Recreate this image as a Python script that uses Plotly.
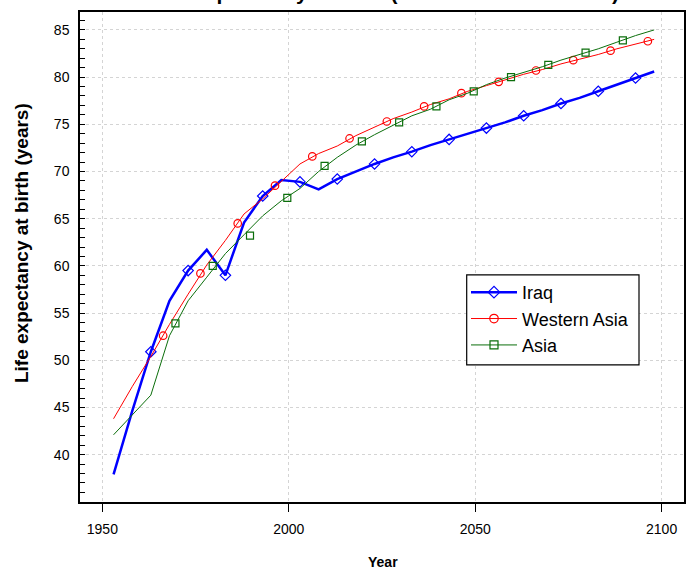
import plotly.graph_objects as go

# ---- data ----
years = [1953, 1958, 1963, 1968, 1973, 1978, 1983, 1988, 1993, 1998,
         2003, 2008, 2013, 2018, 2023, 2028, 2033, 2038, 2043, 2048,
         2053, 2058, 2063, 2068, 2073, 2078, 2083, 2088, 2093, 2098]

iraq = [37.9, 44.6, 50.9, 56.3, 59.5, 61.7, 59.0, 64.6, 67.4, 69.1,
        68.9, 68.1, 69.2, 70.0, 70.8, 71.5, 72.1, 72.8, 73.4, 74.0,
        74.6, 75.2, 75.9, 76.5, 77.2, 77.8, 78.5, 79.2, 79.9, 80.6]

western_asia = [43.8, 47.2, 50.4, 53.8, 57.0, 60.1, 62.7, 65.5, 67.1, 68.9,
                70.8, 71.9, 72.7, 73.8, 74.7, 75.6, 76.3, 77.1, 77.7, 78.5,
                79.1, 79.7, 80.3, 80.8, 81.4, 81.9, 82.4, 83.0, 83.5, 84.0]

asia = [42.1, 44.2, 46.3, 52.6, 56.3, 58.8, 61.3, 63.3, 65.3, 66.9,
        68.2, 70.0, 71.5, 72.8, 73.9, 74.9, 75.9, 76.6, 77.6, 78.3,
        79.2, 79.9, 80.5, 81.1, 81.8, 82.4, 83.0, 83.7, 84.4, 85.0]

# marker positions as drawn in the picture (markers are spread along each line)
iraq_mk_years = [1963, 1973, 1983, 1993, 2003, 2013, 2023, 2033, 2043, 2053, 2063, 2073, 2083, 2093]
iraq_mk_vals = [50.9, 59.5, 59.0, 67.4, 68.9, 69.2, 70.8, 72.1, 73.4, 74.6, 75.9, 77.2, 78.5, 79.9]

wa_mk_years = [1966.3, 1976.3, 1986.3, 1996.3, 2006.3, 2016.3, 2026.3,
               2036.3, 2046.3, 2056.3, 2066.3, 2076.3, 2086.3, 2096.3]
wa_mk_vals = [52.6, 59.2, 64.5, 68.5, 71.6, 73.5, 75.3, 76.9, 78.3, 79.5, 80.7, 81.8, 82.8, 83.8]

asia_mk_years = [1969.6, 1979.6, 1989.6, 1999.6, 2009.6, 2019.6, 2029.6,
                 2039.6, 2049.6, 2059.6, 2069.6, 2079.6, 2089.6]
asia_mk_vals = [53.9, 60.0, 63.2, 67.2, 70.6, 73.2, 75.2, 76.9, 78.5, 80.0, 81.3, 82.6, 83.9]

x_ticks = [1950, 2000, 2050, 2100]
y_ticks = [40, 45, 50, 55, 60, 65, 70, 75, 80, 85]

series = [
    ("Iraq", iraq, iraq_mk_years, iraq_mk_vals, "#0000FF", 2.5, "diamond-open", 8),
    ("Western Asia", western_asia, wa_mk_years, wa_mk_vals, "#FF0000", 1, "circle-open", 7.5),
    ("Asia", asia, asia_mk_years, asia_mk_vals, "#0B6E0B", 1, "square-open", 7),
]

FONT = "Arial, Liberation Sans, sans-serif"

fig = go.Figure()
for name, vals, mky, mkv, col, lw, sym, sz in series:
    fig.add_trace(go.Scatter(x=years, y=vals, mode="lines", line=dict(color=col, width=lw),
                             showlegend=False, hoverinfo="skip"))
    fig.add_trace(go.Scatter(x=mky, y=mkv, mode="markers",
                             marker=dict(symbol=sym, size=sz, color=col, line=dict(width=1.2, color=col)),
                             showlegend=False, hoverinfo="skip"))
for name, vals, mky, mkv, col, lw, sym, sz in series:
    fig.add_trace(go.Scatter(x=[None], y=[None], mode="lines+markers", name=name,
                             line=dict(color=col, width=lw),
                             marker=dict(symbol=sym, size=sz + 1, color=col, line=dict(width=1.2, color=col))))

L, R, T, B = 80, 13, 10, 70
W, H = 697, 572
pw, ph = W - L - R, H - T - B

def px(xp):
    return (xp - L) / pw

def py(yp):
    return (H - B - yp) / ph

fig.update_layout(
    width=W, height=H,
    margin=dict(l=L, r=R, t=T, b=B, pad=0),
    paper_bgcolor="white", plot_bgcolor="white",
    font=dict(family=FONT, size=14, color="black"),
    showlegend=True,
    legend=dict(x=px(466), y=py(273), xanchor="left", yanchor="top",
                bgcolor="rgba(0,0,0,0)", borderwidth=0, itemwidth=46,
                font=dict(family=FONT, size=18, color="black")),
    xaxis=dict(range=[1944, 2106], tickvals=x_ticks, ticks="outside", ticklen=8,
               tickcolor="black", tickwidth=1, showline=True, mirror=True,
               linecolor="black", linewidth=1.5, showgrid=True, gridcolor="#d4d4d4",
               griddash="dot", gridwidth=1, zeroline=False, ticklabelstandoff=5,
               tickfont=dict(family=FONT, size=14)),
    yaxis=dict(range=[34.98, 86.9], tickvals=y_ticks, ticks="inside", ticklen=5,
               tickcolor="black", tickwidth=1, showline=True, mirror=True,
               linecolor="black", linewidth=1.5, showgrid=True, gridcolor="#d4d4d4",
               griddash="dot", gridwidth=1, zeroline=False, ticklabelstandoff=6,
               minor=dict(dtick=1, tick0=0, ticks="inside", ticklen=5, tickcolor="black",
                          showgrid=False),
               tickfont=dict(family=FONT, size=14)),
    shapes=[dict(type="rect", xref="paper", yref="paper",
                 x0=px(466.7), x1=px(639), y0=py(364.3), y1=py(274),
                 line=dict(color="black", width=1.2), fillcolor="white", layer="above")],
    annotations=[
        dict(text="<b>Life expectancy at birth (both sexes combined)</b>", xref="paper", yref="paper",
             x=px(384), y=py(4), xanchor="center", yanchor="bottom", showarrow=False,
             font=dict(family=FONT, size=21, color="black")),
        dict(text="<b>Year</b>", xref="paper", yref="paper", x=px(383), y=py(562),
             xanchor="center", yanchor="middle", showarrow=False,
             font=dict(family=FONT, size=14, color="black")),
        dict(text="<b>Life expectancy at birth (years)</b>", xref="paper", yref="paper",
             x=px(21), y=py(242), xanchor="center", yanchor="middle", textangle=-90,
             showarrow=False, font=dict(family=FONT, size=19, color="black")),
    ],
)

fig.write_html("out.html", config={"displayModeBar": False},
               post_script="document.body.style.margin='0px';")
